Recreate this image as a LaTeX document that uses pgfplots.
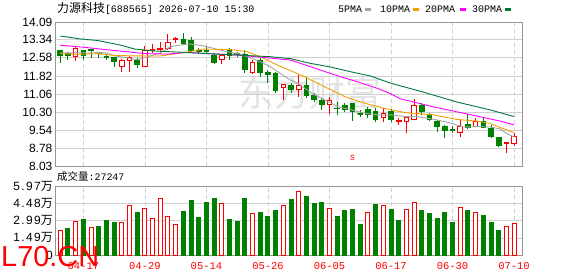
\documentclass[border=0pt]{standalone}
\usepackage{fontspec}
\setmainfont{Liberation Sans}
\newfontfamily\cjk{Noto Sans CJK SC}
\newfontfamily\mono{Liberation Mono}
\newfontfamily\volfont[LetterSpace=12]{Liberation Sans}
\usepackage{pgfplots}
\pgfplotsset{compat=1.18}
\usepgfplotslibrary{statistics}
\definecolor{kred}{RGB}{255,0,0}
\definecolor{kgreen}{RGB}{0,128,0}
\definecolor{maA}{RGB}{165,165,165}
\definecolor{maB}{RGB}{240,160,0}
\definecolor{maC}{RGB}{255,0,255}
\definecolor{maD}{RGB}{0,120,60}
\definecolor{gridc}{RGB}{208,208,208}
\definecolor{framec}{RGB}{150,150,150}
% up candle: idx, body low, body high, low, high
\newcommand{\cu}[5]{\addplot[draw=kred, line width=1bp, solid, boxplot prepared={draw direction=y, draw position=#1, lower quartile=#2, upper quartile=#3, median=#2, lower whisker=#4, upper whisker=#5, box extend=0.6, whisker extend=0, every box/.style={draw=kred, fill=white}}] coordinates {};}
\newcommand{\cd}[5]{\addplot[draw=kgreen, line width=1bp, solid, boxplot prepared={draw direction=y, draw position=#1, lower quartile=#2, upper quartile=#3, median=#2, lower whisker=#4, upper whisker=#5, box extend=0.6, whisker extend=0, every box/.style={draw=kgreen, fill=kgreen}}] coordinates {};}
\begin{document}
\begin{tikzpicture}
\useasboundingbox (0,0) rectangle (578bp,-276bp);
\node[anchor=west, inner sep=0, text=black!11, font=\cjk\fontsize{36}{36}\selectfont] at (238bp,-93bp) {东方财富};
\begin{axis}[
  at={(55.5bp,-166bp)}, anchor=south west, scale only axis,
  width=466.5bp, height=144bp,
  xmin=0.376, xmax=61.03, ymin=8.03, ymax=14.09,
  ytick={8.03,8.78,9.54,10.30,11.06,11.82,12.58,13.34,14.09},
  yticklabels={8.03,8.78,9.54,10.30,11.06,11.82,12.58,13.34,14.09},
  xtick={4,12,20,28,36,44,52,60}, xticklabels={},
  /pgf/number format/assume math mode=true,
  major tick length=0pt, tick style={draw=none},
  xmajorgrids, ymajorgrids,
  x grid style={gridc, line width=0.8bp, dash pattern=on 4bp off 3bp},
  y grid style={gridc, line width=0.8bp},
  axis line style={framec, line width=1bp},
  yticklabel style={font=\fontsize{12}{12}\selectfont, text=black, anchor=east, inner sep=0pt, xshift=-3bp},
]
\cd{1}{12.67}{12.91}{12.38}{12.93}
\cd{2}{12.70}{12.78}{12.50}{12.84}
\cu{3}{12.63}{12.98}{12.46}{13.04}
\cd{4}{12.70}{12.87}{12.50}{12.91}
\cd{5}{12.87}{12.95}{12.56}{12.97}
\cd{6}{12.78}{12.81}{12.56}{12.84}
\cd{7}{12.60}{12.62}{12.49}{12.73}
\cd{8}{12.42}{12.60}{12.21}{12.62}
\cu{9}{12.21}{12.45}{12.00}{12.52}
\cu{10}{12.45}{12.60}{11.99}{12.67}
\cd{11}{12.32}{12.46}{12.14}{12.56}
\cu{12}{12.21}{12.87}{12.21}{13.09}
\cu{13}{12.87}{12.95}{12.77}{13.17}
\cu{14}{12.92}{12.99}{12.77}{13.26}
\cu{15}{12.99}{13.24}{12.91}{13.58}
\cu{16}{13.36}{13.40}{13.19}{13.47}
\cd{17}{13.20}{13.37}{13.12}{13.64}
\cd{18}{12.91}{13.30}{12.77}{13.47}
\cd{19}{12.85}{12.90}{12.77}{13.00}
\cd{20}{12.84}{12.88}{12.73}{13.09}
\cd{21}{12.38}{12.70}{12.35}{12.77}
\cu{22}{12.53}{12.67}{12.31}{12.73}
\cd{23}{12.67}{12.95}{12.49}{12.98}
\cd{24}{12.72}{12.75}{12.63}{12.84}
\cd{25}{12.10}{12.73}{11.93}{12.91}
\cu{26}{11.96}{12.39}{11.89}{12.49}
\cd{27}{11.97}{12.45}{11.79}{12.56}
\cd{28}{11.90}{11.96}{11.51}{12.07}
\cd{29}{11.20}{11.93}{11.11}{12.00}
\cu{30}{11.34}{11.44}{10.82}{11.47}
\cd{31}{11.23}{11.40}{11.09}{11.51}
\cu{32}{11.23}{11.41}{10.95}{11.86}
\cd{33}{10.98}{11.40}{10.88}{11.72}
\cd{34}{10.81}{10.99}{10.74}{11.09}
\cd{35}{10.60}{10.78}{10.39}{10.88}
\cu{36}{10.63}{10.78}{10.22}{10.95}
\cd{37}{10.44}{10.47}{10.18}{10.74}
\cd{38}{10.39}{10.57}{10.32}{10.67}
\cd{39}{10.32}{10.64}{9.94}{10.67}
\cd{40}{10.22}{10.23}{10.08}{10.39}
\cd{41}{10.18}{10.42}{10.04}{10.53}
\cd{42}{10.00}{10.32}{9.89}{10.46}
\cu{43}{10.08}{10.25}{9.89}{10.46}
\cd{44}{9.97}{10.34}{9.89}{10.41}
\cu{45}{9.91}{9.93}{9.76}{10.06}
\cu{46}{9.90}{10.06}{9.43}{10.10}
\cu{47}{9.99}{10.56}{9.97}{10.84}
\cd{48}{10.32}{10.56}{10.18}{10.67}
\cd{49}{9.97}{10.21}{9.94}{10.27}
\cd{50}{9.71}{9.92}{9.47}{9.97}
\cd{51}{9.52}{9.68}{9.20}{9.76}
\cd{52}{9.54}{9.56}{9.41}{9.71}
\cu{53}{9.45}{9.68}{9.26}{9.97}
\cd{54}{9.64}{9.79}{9.57}{10.21}
\cu{55}{9.71}{9.89}{9.68}{10.04}
\cd{56}{9.66}{9.89}{9.62}{10.10}
\cd{57}{9.26}{9.62}{9.20}{9.76}
\cd{58}{8.89}{9.24}{8.87}{9.26}
\cu{59}{8.96}{9.00}{8.59}{9.01}
\cu{60}{8.98}{9.26}{8.89}{9.43}
% MA5
\addplot[maA, line width=0.9bp, no marks] coordinates {(1,12.78) (3,12.80) (5,12.78) (6,12.81) (7,12.79) (8,12.67) (9,12.62) (10,12.57) (11,12.50) (12.3,12.62) (14,12.79) (15.3,13.05) (16.6,13.12) (17.9,13.16) (19.6,13.09) (20.9,12.98) (22.7,12.84) (24,12.77) (25.3,12.63) (27,12.42) (28.3,12.21) (29.6,11.93) (30.9,11.65) (31.9,11.51) (33.7,11.09) (35.4,10.81) (37.1,10.53) (38.9,10.39) (40.6,10.25) (42.3,10.18) (44.1,10.18) (45.8,10.11) (47.4,10.11) (50,9.97) (51.7,9.84) (53.4,9.67) (55.2,9.69) (56.9,9.67) (58.2,9.59) (59.1,9.38) (60,9.25)};
% MA10
\addplot[maB, line width=0.9bp, no marks] coordinates {(1,12.77) (2.9,12.73) (5.9,12.76) (8.1,12.68) (12,12.66) (14,12.66) (17,12.80) (19.6,12.95) (23.1,12.93) (25.3,12.84) (27.4,12.57) (29.2,12.28) (30.9,12.05) (32.8,11.78) (35.4,11.36) (38,10.95) (40.6,10.67) (43.2,10.45) (45.8,10.28) (49.5,10.18) (52.6,9.99) (55.2,9.92) (56.9,9.82) (58.2,9.65) (60,9.44)};
% MA20
\addplot[maC, line width=0.9bp, no marks] coordinates {(1,13.11) (3.95,13.03) (7.5,12.91) (12,12.76) (14.9,12.74) (17.5,12.81) (20.1,12.76) (24,12.70) (27.4,12.60) (30.9,12.49) (34.8,12.07) (37.4,11.79) (39.6,11.58) (42.2,11.30) (43.9,11.08) (45.2,10.86) (49.5,10.52) (53.9,10.22) (58.2,9.92) (60,9.76)};
% MA30
\addplot[maD, line width=0.9bp, no marks] coordinates {(1,13.50) (3.8,13.37) (5.9,13.31) (8.8,13.12) (10.7,12.95) (13.3,12.87) (15.9,12.83) (19.6,12.77) (24,12.70) (28.3,12.63) (30.9,12.55) (33.5,12.35) (36.1,12.20) (38.7,12.00) (41.3,11.82) (43.9,11.52) (48.2,11.14) (52.6,10.72) (56.9,10.39) (60,10.11)};
\node[text=kred, inner sep=0pt, font=\mono\fontsize{8}{8}\selectfont] at (axis cs:39,8.36) {S};
\fill[kred] (axis cs:39,8.50) ++(0,2bp) -- ++(-2.2bp,-2.4bp) -- ++(4.4bp,0) -- cycle;
\end{axis}
\begin{axis}[
  at={(55.5bp,-255bp)}, anchor=south west, scale only axis,
  width=466.5bp, height=68.5bp,
  xmin=0.376, xmax=61.03, ymin=0, ymax=5.97,
  ytick={0,1.49,2.99,4.48,5.97},
  yticklabels={0,{\volfont 1.49}{\cjk 万},{\volfont 2.99}{\cjk 万},{\volfont 4.48}{\cjk 万},{\volfont 5.97}{\cjk 万}},
  xtick={4,12,20,28,36,44,52,60},
  xticklabels={04-17,04-29,05-14,05-26,06-05,06-17,06-30,07-10},
  /pgf/number format/assume math mode=true,
  major tick length=0pt, tick style={draw=none},
  xmajorgrids, ymajorgrids,
  x grid style={gridc, line width=0.8bp, dash pattern=on 4bp off 3bp},
  y grid style={gridc, line width=0.8bp},
  axis line style={framec, line width=1bp},
  yticklabel style={font=\fontsize{12}{12}\selectfont, text=black, anchor=east, inner sep=0pt, xshift=-2.5bp},
  xticklabel style={font=\mono\fontsize{10.5}{10.5}\selectfont, text=kred, anchor=north, inner sep=0pt, yshift=-7bp},
]
\addplot[ybar, bar width=4bp, bar shift=0pt, draw=kred, fill=white, line width=1bp] coordinates {(1,2.14) (3,2.93) (5,2.41) (9,2.84) (10,4.32) (12,4.06) (13,3.19) (14,4.93) (15,3.36) (16,2.70) (22,4.49) (26,3.62) (30,4.32) (32,5.54) (36,4.06) (41,3.71) (43,4.32) (46,3.97) (47,4.58) (53,4.14) (55,3.71) (59,2.49) (60,2.72)};
\addplot[ybar, bar width=4bp, bar shift=0pt, draw=kgreen, fill=kgreen, line width=1bp] coordinates {(2,2.35) (4,3.13) (6,2.52) (7,3.04) (8,2.87) (11,3.74) (17,3.83) (18,4.78) (19,3.30) (20,4.61) (21,4.96) (23,3.13) (24,2.96) (25,4.96) (27,3.74) (28,3.39) (29,3.91) (31,4.87) (33,5.13) (34,4.52) (35,4.61) (37,3.39) (38,3.91) (39,4.00) (40,2.70) (42,4.43) (44,4.00) (45,3.04) (48,3.91) (49,3.65) (50,3.22) (51,3.74) (52,2.87) (54,3.91) (56,3.48) (57,2.87) (58,2.17)};
\end{axis}
\node[anchor=west, inner sep=0] at (57bp,-8.5bp) {{\cjk\fontsize{12}{12}\selectfont 力源科技}{\mono\fontsize{10}{10}\selectfont [688565] 2026-07-10 15:30}};
\node[anchor=west, inner sep=0, font=\mono\fontsize{10}{10}\selectfont] at (338bp,-9bp) {5PMA};
\fill[maA] (365bp,-7.5bp) rectangle (371bp,-10.5bp);
\node[anchor=west, inner sep=0, font=\mono\fontsize{10}{10}\selectfont] at (380bp,-9bp) {10PMA};
\fill[maB] (413bp,-7.5bp) rectangle (419bp,-10.5bp);
\node[anchor=west, inner sep=0, font=\mono\fontsize{10}{10}\selectfont] at (425bp,-9bp) {20PMA};
\fill[maC] (460bp,-7.5bp) rectangle (466bp,-10.5bp);
\node[anchor=west, inner sep=0, font=\mono\fontsize{10}{10}\selectfont] at (472bp,-9bp) {30PMA};
\fill[maD] (505bp,-7.5bp) rectangle (511bp,-10.5bp);
\node[anchor=west, inner sep=0] at (57bp,-177bp) {{\cjk\fontsize{10.5}{10.5}\selectfont 成交量}{\mono\fontsize{10}{10}\selectfont :27247}};
\node[anchor=base west, inner sep=0, text=kred, font=\fontsize{29}{29}\selectfont] at (1bp,-266bp) {L70.CN};
\end{tikzpicture}
\end{document}
